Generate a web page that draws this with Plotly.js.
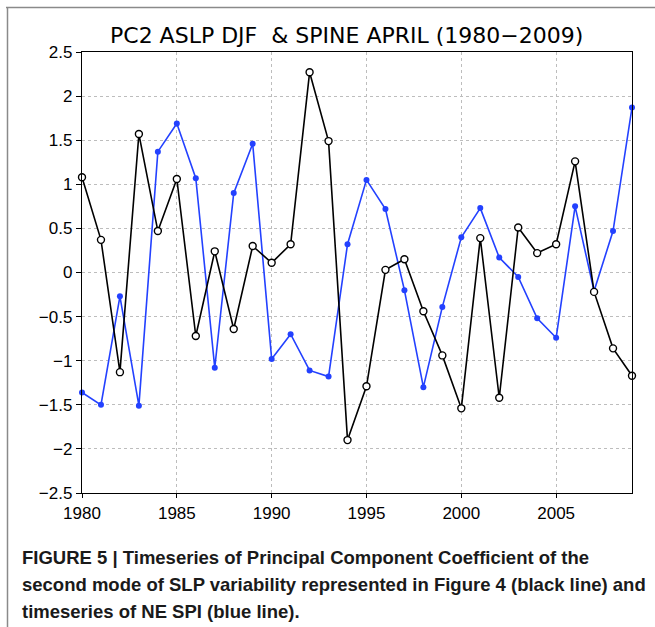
<!DOCTYPE html>
<html>
<head>
<meta charset="utf-8">
<script src="https://cdn.plot.ly/plotly-3.0.1.min.js"></script>
<style>
  html, body { margin: 0; padding: 0; background: #ffffff; }
  #chart { width: 655px; height: 627px; }
</style>
</head>
<body>
<div id="chart"></div>
<script>
// Data
const years = [1980,1981,1982,1983,1984,1985,1986,1987,1988,1989,
               1990,1991,1992,1993,1994,1995,1996,1997,1998,1999,
               2000,2001,2002,2003,2004,2005,2006,2007,2008,2009];

// PC2 ASLP DJF (black line, open circles)
const pc2Aslp = [1.08, 0.37, -1.13, 1.57, 0.47, 1.06, -0.72, 0.24, -0.64, 0.30,
                 0.11, 0.32, 2.27, 1.49, -1.90, -1.29, 0.03, 0.15, -0.44, -0.94,
                 -1.54, 0.39, -1.42, 0.51, 0.22, 0.32, 1.26, -0.22, -0.86, -1.17];

// NE SPI April (blue line, filled dots)
const neSpi = [-1.36, -1.50, -0.27, -1.51, 1.37, 1.69, 1.07, -1.08, 0.90, 1.46,
               -0.98, -0.70, -1.11, -1.18, 0.32, 1.05, 0.72, -0.20, -1.30, -0.39,
               0.40, 0.73, 0.17, -0.05, -0.52, -0.74, 0.75, -0.21, 0.47, 1.87];

const xTicks = [1980, 1985, 1990, 1995, 2000, 2005];
const yTicks = [-2.5, -2, -1.5, -1, -0.5, 0, 0.5, 1, 1.5, 2, 2.5];
const yTickText = ['\u22122.5', '\u22122', '\u22121.5', '\u22121', '\u22120.5', '0', '0.5', '1', '1.5', '2', '2.5'];

const titleText = 'PC2 ASLP DJF&nbsp;&nbsp;&amp; SPINE APRIL (1980\u22122009)';
const captionLines = [
  'FIGURE 5 | Timeseries of Principal Component Coefficient of the',
  'second mode of SLP variability represented in Figure 4 (black line) and',
  'timeseries of NE SPI (blue line).'
];

// Geometry (pixels)
const W = 655, H = 627;
const L = 82, R = 632, T = 52, B = 493;
const pw = R - L, ph = B - T;
const px = v => (v - L) / pw;
const py = v => (B - v) / ph;

const blue = 'rgb(35,65,255)';

const traces = [
  {
    x: years, y: neSpi, type: 'scatter', mode: 'lines+markers',
    line: { color: blue, width: 1.6 },
    marker: { color: blue, size: 6, symbol: 'circle' },
    cliponaxis: false, hoverinfo: 'skip'
  },
  {
    x: years, y: pc2Aslp, type: 'scatter', mode: 'lines+markers',
    line: { color: '#000000', width: 1.6 },
    marker: { color: '#ffffff', size: 7, symbol: 'circle', line: { color: '#000000', width: 1.4 } },
    cliponaxis: false, hoverinfo: 'skip'
  }
];

const tickFont = { family: 'Liberation Sans, Arial, sans-serif', size: 17, color: '#000' };

const annotations = [
  {
    text: titleText, xref: 'paper', yref: 'paper',
    x: px(346.5), y: py(35), xanchor: 'center', yanchor: 'middle',
    showarrow: false,
    font: { family: 'DejaVu Sans, sans-serif', size: 22, color: '#000' }
  }
];
const capY = [557, 584, 611];
captionLines.forEach((t, i) => {
  annotations.push({
    text: '<b>' + t + '</b>', xref: 'paper', yref: 'paper',
    x: px(20), y: py(capY[i]), xanchor: 'left', yanchor: 'middle',
    showarrow: false, align: 'left',
    font: { family: 'Liberation Sans, Arial, sans-serif', size: 18.5, color: '#1a1a1a' }
  });
});

const shapes = [
  // figure frame (left and top gray edges)
  { type: 'line', xref: 'paper', yref: 'paper', x0: px(7.5), x1: px(7.5), y0: py(7.5), y1: py(627),
    line: { color: '#8a8a8a', width: 1.5 } },
  { type: 'line', xref: 'paper', yref: 'paper', x0: px(6), x1: px(655), y0: py(7.5), y1: py(7.5),
    line: { color: '#8a8a8a', width: 1.5 } }
];

const layout = {
  width: W, height: H,
  margin: { l: L, r: W - R, t: T, b: H - B, pad: 0 },
  paper_bgcolor: '#ffffff', plot_bgcolor: '#ffffff',
  showlegend: false,
  xaxis: {
    range: [1980, 2009], tickvals: xTicks, ticktext: xTicks.map(String),
    showgrid: true, gridcolor: '#bdbdbd', gridwidth: 1, griddash: 'dot',
    zeroline: false, showline: true, linecolor: '#000', linewidth: 1.2, mirror: true,
    ticks: 'outside', ticklen: 4, tickcolor: '#000', tickfont: tickFont
  },
  yaxis: {
    range: [-2.5, 2.5], tickvals: yTicks, ticktext: yTickText,
    showgrid: true, gridcolor: '#bdbdbd', gridwidth: 1, griddash: 'dot',
    zeroline: false, showline: true, linecolor: '#000', linewidth: 1.2, mirror: true,
    ticks: 'outside', ticklen: 5, tickcolor: '#000', tickfont: tickFont
  },
  annotations: annotations,
  shapes: shapes
};

Plotly.newPlot('chart', traces, layout, { staticPlot: true, displayModeBar: false });
</script>
</body>
</html>
